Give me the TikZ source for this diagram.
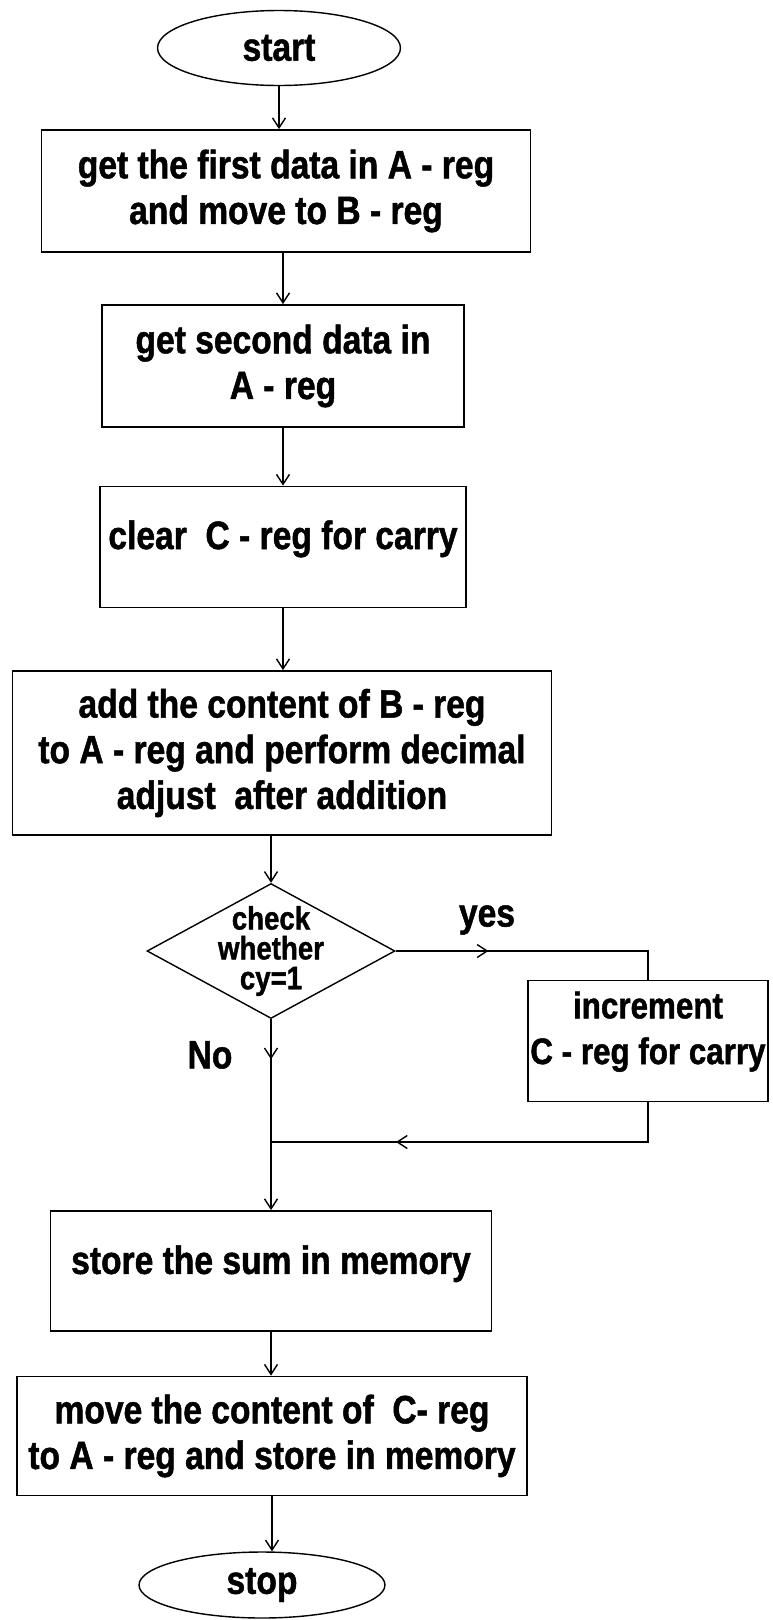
\documentclass[tikz,border=0pt]{standalone}
\usepackage{fontspec}
\setmainfont{Liberation Sans}[FakeStretch=0.85, BoldFeatures={FakeBold=1.2}]
\usetikzlibrary{shapes.geometric,arrows.meta,positioning,decorations.markings}

\tikzset{
  flow/.style={line width=0.8pt},
  arr/.style={flow, -{Straight Barb[length=2mm,width=2.6mm]}},
  midarrow/.style={postaction={decorate}, decoration={markings,
      mark=at position #1 with {\arrow{Straight Barb[length=2mm,width=2.6mm]}}}},
  process/.style={draw, line width=1pt, align=center, inner sep=1pt,
      font=\bfseries\fontsize{22.5}{26}\selectfont},
  terminal/.style={ellipse, draw, line width=0.8pt, inner sep=0pt,
      font=\bfseries\fontsize{22.5}{26}\selectfont},
  decision/.style={diamond, draw, line width=0.8pt, inner sep=0pt},
  dectext/.style={align=center, font=\bfseries\fontsize{18.5}{17}\selectfont},
  tag/.style={font=\bfseries\fontsize{22.5}{26}\selectfont},
}

\begin{document}
\begin{tikzpicture}[x=0.02cm, y=-0.02cm]
  \useasboundingbox (0,0) rectangle (773,1620);

  % main column
  \node[terminal, minimum width=4.86cm, minimum height=1.5cm] (start) at (279,48) {start};
  \node[process, minimum width=9.78cm, minimum height=2.44cm] (get1) at (286,191)
    {get the first data in A - reg\\and move to B - reg};
  \node[process, minimum width=7.24cm, minimum height=2.44cm] (get2) at (283,366)
    {get second data in\\A - reg};
  \node[process, minimum width=7.32cm, minimum height=2.42cm, text depth=14pt] (clr) at (283,547)
    {clear\ \ C - reg for carry};
  \node[process, minimum width=10.78cm, minimum height=3.28cm] (add) at (282,753)
    {add the content of B - reg\\to A - reg and perform decimal\\adjust\ \ after addition};
  \node[decision, minimum width=4.96cm, minimum height=2.7cm,
    label={[dectext]center:check\\whether\\cy=1}] (dec) at (271,951) {};
  \node[process, minimum width=8.82cm, minimum height=2.4cm, text depth=13pt] (store) at (271,1271)
    {store the sum in memory};
  \node[process, minimum width=10.2cm, minimum height=2.38cm] (move) at (272,1436)
    {move the content of\ \ C- reg\\to A - reg and store in memory};
  \node[terminal, minimum width=4.92cm, minimum height=1.32cm] (stop) at (262,1585) {stop};

  % side branch
  \node[process, inner xsep=0pt, minimum width=4.8cm, minimum height=2.42cm, text depth=15pt,
    font=\bfseries\fontsize{21}{26}\selectfont] (inc) at (648,1041)
    {increment\\C - reg for carry};
  \coordinate (join) at (271,1142);

  % labels
  \node[tag] (yeslbl) at (487,920) {yes};
  \node[tag] (nolbl) at (210,1055) {No};

  % connectors
  \draw[arr] (start.south) -- (start.south |- get1.north);
  \draw[arr] (get2.north |- get1.south) -- (get2.north);
  \draw[arr] (clr.north |- get2.south) -- (clr.north);
  \draw[arr] (clr.south) -- (clr.south |- add.north);
  \draw[arr] (dec.north |- add.south) -- (dec.north);
  \draw[flow, midarrow=0.33] (dec.east) -| (inc.north);
  \draw[flow, midarrow=0.7] (inc.south) |- (join);
  \draw[arr, midarrow=0.21] (dec.south) -- (store.north);
  \draw[arr] (store.south) -- (store.south |- move.north);
  \draw[arr] (move.south) -- (move.south |- stop.north);
\end{tikzpicture}
\end{document}
